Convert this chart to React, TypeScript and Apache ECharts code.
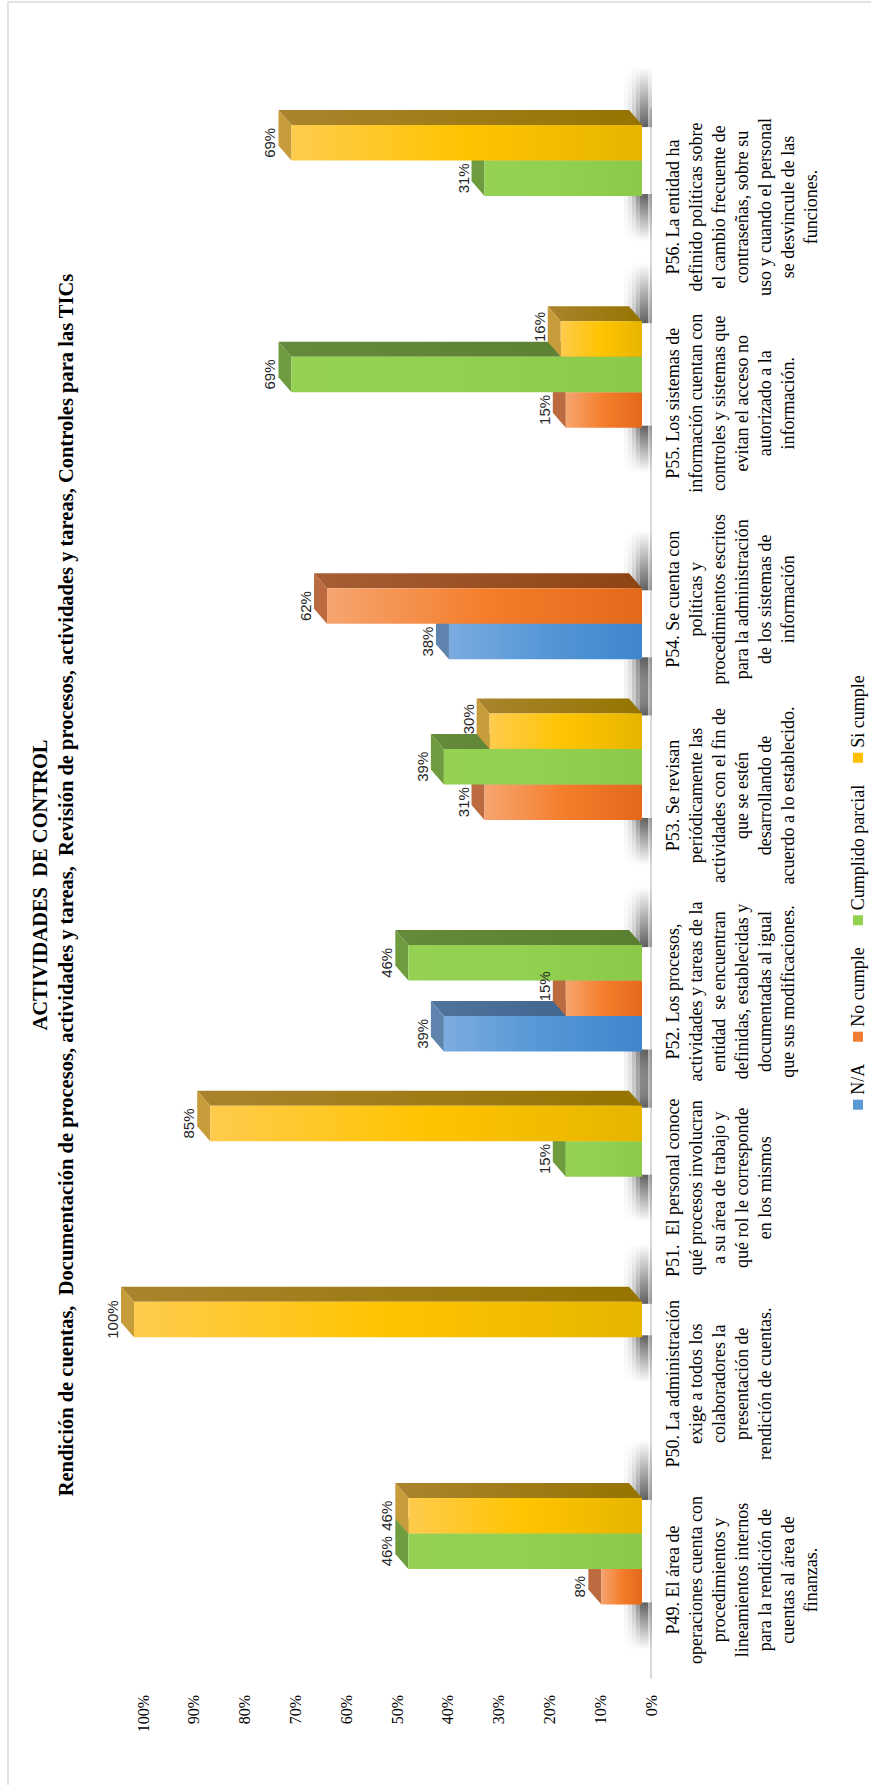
import React, { useEffect, useRef } from "react";
import * as echarts from "echarts";

// ---------- data ----------
const categories = [
  "P49. El área de\noperaciones cuenta con\nprocedimientos y\nlineamientos internos\npara la rendición de\ncuentas al área de\nfinanzas.",
  "P50. La administración\nexige a todos los\ncolaboradores la\npresentación de\nrendición de cuentas.",
  "P51.  El personal conoce\nqué procesos involucran\na su área de trabajo y\nqué rol le corresponde\nen los mismos",
  "P52. Los procesos,\nactividades y tareas de la\nentidad  se encuentran\ndefinidas, establecidas y\ndocumentadas al igual\nque sus modificaciones.",
  "P53. Se revisan\nperiódicamente las\nactividades con el fin de\nque se estén\ndesarrollando de\nacuerdo a lo establecido.",
  "P54. Se cuenta con\npolíticas y\nprocedimientos escritos\npara la administración\nde los sistemas de\ninformación",
  "P55. Los sistemas de\ninformación cuentan con\ncontroles y sistemas que\nevitan el acceso no\nautorizado a la\ninformación.",
  "P56. La entidad ha\ndefinido políticas sobre\nel cambio frecuente de\ncontraseñas, sobre su\nuso y cuando el personal\nse desvincule de las\nfunciones.",
];
const seriesNames = ["N/A", "No cumple", "Cumplido parcial", "Si cumple"];
const naValues = [0, 0, 0, 39, 0, 38, 0, 0];
const noCumpleValues = [8, 0, 0, 15, 31, 62, 15, 0];
const parcialValues = [46, 0, 15, 46, 39, 0, 69, 31];
const siCumpleValues = [46, 100, 85, 0, 30, 0, 16, 69];
const valueMin = 0;
const valueMax = 100;
const valueInterval = 10;
const titleLine1 = "ACTIVIDADES  DE CONTROL";
const titleLine2 =
  "Rendición de cuentas,  Documentación de procesos, actividades y tareas,  Revisión de procesos, actividades y tareas, Controles para las TICs";

const allSeries = [naValues, noCumpleValues, parcialValues, siCumpleValues];

// ---------- layout (unrotated frame) ----------
const W = 1785;
const H = 871;
const SLOT_RATIO = 0.181;
const SHIFT_X = 11;
const LIFT = 9;
const DX = 15;
const DY = 13;
const TITLE_CENTER = 900;
const LABEL_NUDGE = 12;

const PALETTES = [
  { front: ["#7cabe0", "#5497d6", "#3f86cc"], side: ["#50739c", "#3a6088"], top: "#5f85ae", legend: "#5b9bd5" },
  { front: ["#f6a570", "#f47e2c", "#e3691b"], side: ["#a85e35", "#8e4313"], top: "#bb6b3f", legend: "#ed7d31" },
  { front: ["#95d254", "#92d050", "#8bca49"], side: ["#668a3c", "#5a7f30"], top: "#709c40", legend: "#92d050" },
  { front: ["#ffcb4d", "#ffc400", "#e6b500"], side: ["#aa842d", "#957400"], top: "#c79c3a", legend: "#ffc000" },
];

function barRenderer(s: number) {
  const p = PALETTES[s];
  return (params: any, api: any) => {
    const ci = api.value(0);
    const val = api.value(1);
    if (!val) return null;
    const catW = api.size([1, 0])[0];
    const slot = catW * SLOT_RATIO;
    const base = api.coord([ci, 0]);
    const top = api.coord([ci, val]);
    const x0 = base[0] - 2 * slot + s * slot + SHIFT_X;
    const x1 = x0 + slot;
    const yb = base[1] - LIFT;
    const yt = top[1] - LIFT;
    const leftTaller = s > 0 && allSeries[s - 1][ci] > val;
    const labelX = (x0 + x1) / 2 + (leftTaller ? LABEL_NUDGE : 0);
    return {
      type: "group",
      children: [
        {
          type: "polygon",
          shape: { points: [[x1, yt], [x1 + DX, yt - DY], [x1 + DX, yb - DY], [x1, yb]] },
          style: {
            fill: new echarts.graphic.LinearGradient(0, 0, 0, 1, [
              { offset: 0, color: p.side[0] },
              { offset: 1, color: p.side[1] },
            ]),
          },
        },
        {
          type: "polygon",
          shape: { points: [[x0, yt], [x0 + DX, yt - DY], [x1 + DX, yt - DY], [x1, yt]] },
          style: { fill: p.top },
        },
        {
          type: "rect",
          shape: { x: x0, y: yt, width: slot, height: yb - yt },
          style: {
            fill: new echarts.graphic.LinearGradient(0, 0, 0, 1, [
              { offset: 0, color: p.front[0] },
              { offset: 0.5, color: p.front[1] },
              { offset: 1, color: p.front[2] },
            ]),
          },
        },
        {
          type: "text",
          z2: 100,
          style: {
            text: val + "%",
            x: labelX,
            y: yt - DY - 1,
            align: "center",
            verticalAlign: "bottom",
            textAlign: "center",
            textVerticalAlign: "bottom",
            fill: "#262626",
            fontSize: 15,
            fontFamily: "Liberation Sans",
          },
        },
      ],
    };
  };
}

function shadowRenderer(params: any, api: any) {
  const ci = api.value(0);
  const present = allSeries.map((arr, s) => (arr[ci] > 0 ? s : -1)).filter((s) => s >= 0);
  if (!present.length) return null;
  const catW = api.size([1, 0])[0];
  const slot = catW * SLOT_RATIO;
  const base = api.coord([ci, 0]);
  const start = base[0] - 2 * slot + present[0] * slot + SHIFT_X;
  const end = base[0] - 2 * slot + (present[present.length - 1] + 1) * slot + SHIFT_X;
  const yb = base[1] - LIFT;
  const L = 45;
  const rows = [
    { d: -18, a: 0.06 },
    { d: -14, a: 0.14 },
    { d: -10, a: 0.28 },
    { d: -6, a: 0.48 },
    { d: -2, a: 0.68 },
    { d: 2, a: 0.7 },
    { d: 6, a: 0.35 },
  ];
  const children: any[] = [];
  rows.forEach((r) => {
    const c = `rgba(25,25,25,${r.a})`;
    children.push({
      type: "rect",
      shape: { x: start - L, y: yb + r.d, width: L + 2, height: 4 },
      style: {
        fill: new echarts.graphic.LinearGradient(0, 0, 1, 0, [
          { offset: 0, color: "rgba(25,25,25,0)" },
          { offset: 1, color: c },
        ]),
      },
    });
    children.push({
      type: "rect",
      shape: { x: end - 2, y: yb + r.d, width: L + DX, height: 4 },
      style: {
        fill: new echarts.graphic.LinearGradient(0, 0, 1, 0, [
          { offset: 0, color: c },
          { offset: 1, color: "rgba(25,25,25,0)" },
        ]),
      },
    });
  });
  return { type: "group", children };
}

function buildOption() {
  const titleStyle = {
    fontFamily: "Liberation Serif",
    fontWeight: "bold" as const,
    fontSize: 20.5,
    color: "#000",
  };
  return {
    animation: false,
    backgroundColor: "#fff",
    color: PALETTES.map((p) => p.legend),
    title: [
      { text: titleLine1, left: TITLE_CENTER, top: 29, textAlign: "center", padding: 0, textStyle: titleStyle },
      { text: titleLine2, left: TITLE_CENTER, top: 55, textAlign: "center", padding: 0, textStyle: titleStyle },
    ],
    legend: {
      data: seriesNames,
      left: "center",
      top: 844,
      icon: "rect",
      itemWidth: 10,
      itemHeight: 10,
      itemGap: 22,
      textStyle: { fontFamily: "Liberation Serif", fontSize: 18, color: "#000" },
    },
    graphic: [
      {
        type: "rect",
        shape: { x: -5, y: 8, width: W - 2 + 5, height: H },
        style: { fill: "none", stroke: "#d9d9d9", lineWidth: 1.5 },
        silent: true,
      },
    ],
    grid: { left: 107, right: 109, top: 143, bottom: 220, containLabel: false },
    xAxis: {
      type: "category",
      data: categories,
      boundaryGap: true,
      axisLine: { show: true, lineStyle: { color: "#d9d9d9", width: 2 } },
      axisTick: { show: false },
      splitLine: { show: false },
      axisLabel: {
        interval: 0,
        margin: 10,
        fontFamily: "Liberation Serif",
        fontSize: 18,
        lineHeight: 23,
        color: "#000",
        align: "center",
      },
    },
    yAxis: {
      type: "value",
      min: valueMin,
      max: valueMax,
      interval: valueInterval,
      axisLine: { show: false },
      axisTick: { show: false },
      splitLine: { show: false },
      axisLabel: {
        formatter: "{value}%",
        margin: 17,
        fontFamily: "Liberation Serif",
        fontSize: 16,
        color: "#000",
      },
    },
    series: [
      ...seriesNames.map((name, s) => ({
        type: "custom",
        name,
        z: 2,
        itemStyle: { color: PALETTES[s].legend },
        renderItem: barRenderer(s),
        data: allSeries[s].map((v, i) => [i, v]),
      })),
      {
        type: "custom",
        name: "shadow",
        z: 1,
        silent: true,
        itemStyle: { color: "#444" },
        renderItem: shadowRenderer,
        data: categories.map((_, i) => [i, 0]),
      },
    ],
  };
}

export default function App() {
  const ref = useRef<HTMLDivElement>(null);
  useEffect(() => {
    if (!ref.current) return;
    const chart = echarts.init(ref.current, null, { renderer: "svg" });
    chart.setOption(buildOption() as any);
    return () => chart.dispose();
  }, []);
  return (
    <div
      style={{
        position: "absolute",
        left: 0,
        top: 0,
        width: 871,
        height: 1785,
        overflow: "hidden",
        background: "#fff",
      }}
    >
      <div
        ref={ref}
        style={{
          position: "absolute",
          left: 0,
          top: 0,
          width: W,
          height: H,
          transformOrigin: "0 0",
          transform: `translateY(${W}px) rotate(-90deg)`,
        }}
      />
    </div>
  );
}
